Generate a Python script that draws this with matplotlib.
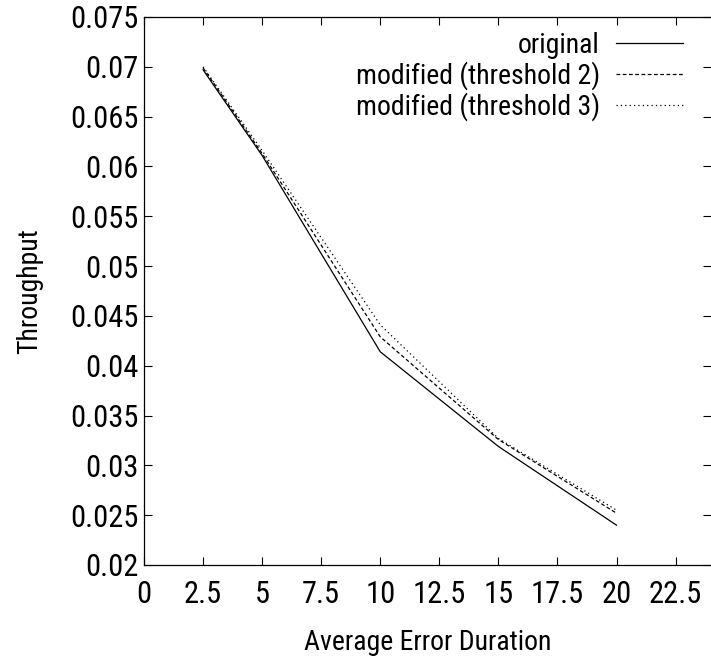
import matplotlib
matplotlib.use('Agg')
import matplotlib.pyplot as plt
import numpy as np

# average error duration
duration = [2.5, 5, 10, 15, 20]
# throughput per variant
original = [0.0697, 0.0611, 0.0414, 0.0319, 0.0240]
modified_t2 = [0.0699, 0.0613, 0.0429, 0.0326, 0.0252]
modified_t3 = [0.0700, 0.0616, 0.0441, 0.0327, 0.0255]

xticks = np.arange(0, 23, 2.5)
yticks = np.arange(0.02, 0.0751, 0.005)
xtick_labels = ['0', '2.5', '5', '7.5', '10', '12.5', '15', '17.5', '20', '22.5']
ytick_labels = ['0.02', '0.025', '0.03', '0.035', '0.04', '0.045', '0.05',
                '0.055', '0.06', '0.065', '0.07', '0.075']

# gnuplot output looks like a squeezed Helvetica
plt.rcParams['font.family'] = ['Roboto Condensed', 'Liberation Sans', 'DejaVu Sans']
fs = 22      # tick labels
fs_txt = 20  # axis labels, legend

W, H = 711, 667
fig = plt.figure(figsize=(W / 100, H / 100), dpi=100)
ax = fig.add_axes([144 / W, 1 - 565 / H, (711 - 144) / W, (565 - 17) / H])

ax.plot(duration, original, color='black', lw=0.9, label='original')
ax.plot(duration, modified_t2, color='black', lw=0.9, linestyle=(0, (3, 2)),
        label='modified (threshold 2)')
ax.plot(duration, modified_t3, color='black', lw=0.9, linestyle=(0, (1, 2.5)),
        label='modified (threshold 3)')

ax.set_xlim(0, 24)
ax.set_ylim(0.02, 0.075)
ax.set_xticks(xticks)
ax.set_xticklabels(xtick_labels, fontsize=fs)
ax.set_yticks(yticks)
ax.set_yticklabels(ytick_labels, fontsize=fs)
ax.tick_params(direction='in', length=6, width=0.8, top=True, right=True)
ax.tick_params(axis='x', pad=11)
ax.tick_params(axis='y', pad=4)
for s in ax.spines.values():
    s.set_linewidth(0.9)
ax.spines['right'].set_visible(False)

ax.set_xlabel('Average Error Duration', fontsize=fs_txt, labelpad=14)
ax.set_ylabel('Throughput', fontsize=fs_txt, labelpad=19)

ax.legend(loc='upper right', bbox_to_anchor=(683 / W, 1 - 32 / H),
          bbox_transform=fig.transFigure, frameon=False, markerfirst=False,
          fontsize=fs_txt, handlelength=2.4, handletextpad=0.6, labelspacing=0.08,
          borderpad=0, borderaxespad=0)

fig.savefig('out.png', dpi=100)
